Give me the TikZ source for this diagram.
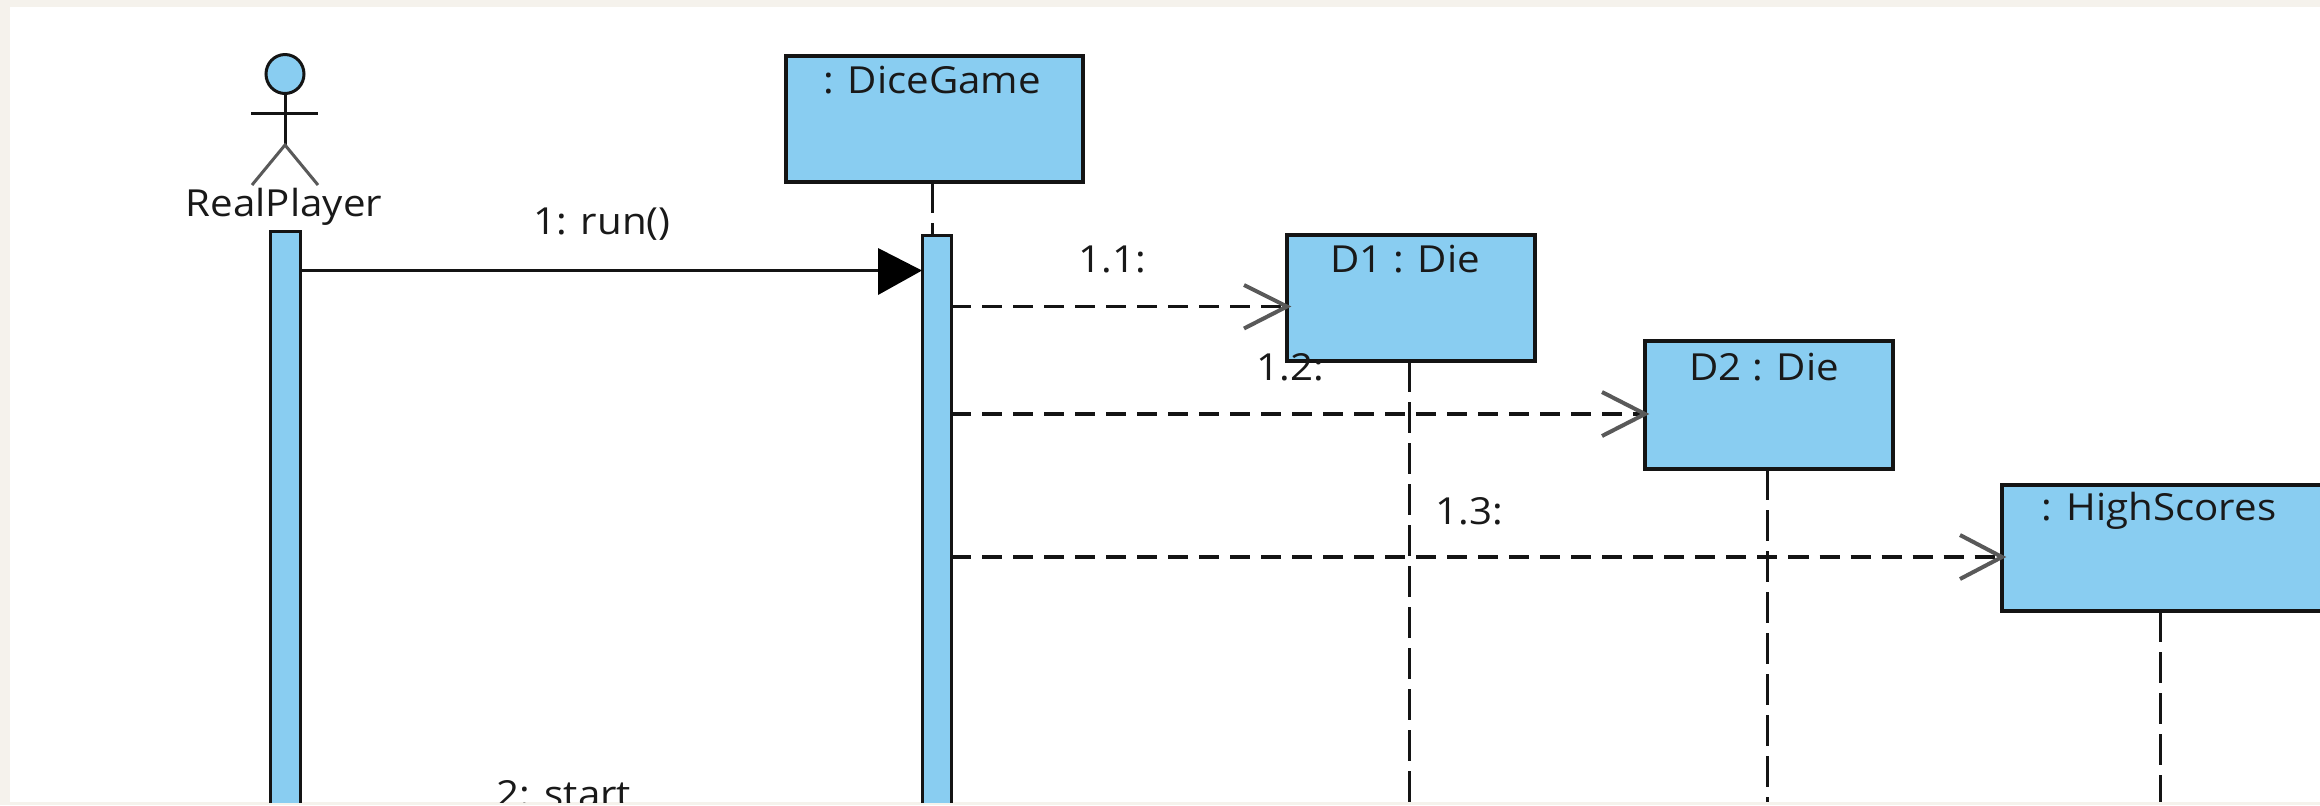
\documentclass[tikz,border=0pt]{standalone}
\usepackage{fontspec}
\setmainfont[FakeStretch=1.08]{Open Sans}
\usetikzlibrary{arrows.meta}
\definecolor{fillblue}{HTML}{89CDF1}
\definecolor{pagebg}{HTML}{F5F2EC}
\definecolor{inkc}{HTML}{141414}
\tikzset{
  x=0.01cm,y=-0.01cm,
  objbox/.style={draw=inkc,line width=0.035cm,fill=fillblue,rectangle,inner sep=0pt,minimum width=0pt},
  bar/.style={draw=inkc,line width=0.03cm,fill=fillblue},
  lifeline/.style={draw=inkc,line width=0.03cm,dash pattern=on 0.31cm off 0.1cm},
  msg/.style={draw=inkc,line width=0.032cm,dash pattern=on 0.2cm off 0.11cm},
  openhead/.style={draw=black!65,line width=0.04cm},
  lbl/.style={inner sep=0pt,font=\fontsize{10.6}{12}\selectfont,text=black!90},
  limb/.style={draw=inkc,line width=0.03cm},
}
\begin{document}
\begin{tikzpicture}
\useasboundingbox (0,0) rectangle (2320,805);
\fill[pagebg] (0,0) rectangle (2320,805);
\fill[white] (10,7) rectangle (2320,802);
\begin{scope}
\clip (10,7) rectangle (2320,802);
% coordinates
\coordinate (dgtop) at (932,182);
\coordinate (dgact) at (932,235);
\coordinate (d1bot) at (1409,361);
\coordinate (d1end) at (1409,802);
\coordinate (d2bot) at (1767,469);
\coordinate (d2end) at (1767,802);
\coordinate (hsbot) at (2160,611);
\coordinate (hsend) at (2160,802);
% lifelines
\draw[lifeline] (dgtop) -- (dgact);
\draw[lifeline] (d1bot) -- (d1end);
\draw[lifeline] (d2bot) -- (d2end);
\draw[lifeline] (hsbot) -- (hsend);
% actor
\draw[limb,fill=fillblue] (285,74) ellipse (19 and 19.5);
\coordinate (neck) at (285,93.5);
\coordinate (hip) at (285,145);
\coordinate (armL) at (251,113);
\coordinate (armR) at (318,113);
\coordinate (legL) at (252,185);
\coordinate (legR) at (318,185);
\draw[limb] (neck) -- (hip);
\draw[limb] (armL) -- (armR);
\draw[limb,draw=black!65] (legL) -- (hip) -- (legR);
\node[lbl] (rp) at (284,207) {RealPlayer};
% activation bars
\path[bar] (270,231) rectangle (300,815);
\path[bar] (922,235) rectangle (951,815);
\coordinate (barA) at (300,270.5);
\coordinate (barB) at (922,270.5);
% object boxes
\path[objbox] (786,56) rectangle (1083,182);
\node[lbl] (dg) at (932,80) {: DiceGame};
\path[objbox] (1287,235) rectangle (1535,361);
\node[lbl] (d1) at (1405,259) {D1 : Die};
\path[objbox] (1645,341) rectangle (1893,469);
\node[lbl] (d2) at (1764,367) {D2 : Die};
\path[objbox] (2002,485) rectangle (2330,611);
\node[lbl] (hs) at (2159,511) {: HighScores};
% message 1
\draw[inkc,line width=0.035cm] (barA) -- (880,270.5);
\fill[black] (878,248) -- (922,270.5) -- (878,295) -- cycle;
\node[lbl] (m1) at (602,224) {1: run()};
% message 1.1
\coordinate (s11) at (951,306.5);
\coordinate (e11) at (1287,306.5);
\draw[msg] (s11) -- (e11);
\draw[openhead] (1244,285) -- (e11) -- (1244,328.5);
\node[lbl] (m11) at (1112,259) {1.1:};
% message 1.2
\coordinate (s12) at (951,414);
\coordinate (e12) at (1645,414);
\draw[msg] (s12) -- (e12);
\draw[openhead] (1602,392) -- (e12) -- (1602,436);
\node[lbl] (m12) at (1290,367) {1.2:};
% message 1.3
\coordinate (s13) at (951,557);
\coordinate (e13) at (2002,557);
\draw[msg] (s13) -- (e13);
\draw[openhead] (1960,535) -- (e13) -- (1960,579);
\node[lbl] (m13) at (1469,511) {1.3:};
% message 2 label
\node[lbl] (m2) at (564,794) {2: start};
\end{scope}
\end{tikzpicture}
\end{document}
